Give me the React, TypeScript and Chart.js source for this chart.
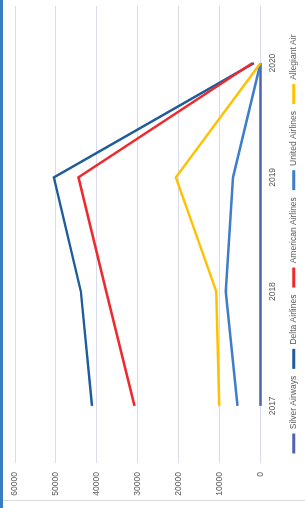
import React, { useEffect, useRef } from "react";
import { Chart, registerables } from "chart.js";

Chart.register(...registerables);

const years = ["2017", "2018", "2019", "2020"];
const seriesNames = ["Silver Airways", "Delta Airlines", "American Airlines", "United Airlines", "Allegiant Air"];
const silverAirways = [0, 0, 0, 0];
const deltaAirlines = [41200, 43900, 50500, 1600];
const americanAirlines = [30800, 37700, 44500, 2000];
const unitedAirlines = [5600, 8500, 6700, 0];
const allegiantAir = [10100, 10800, 20700, 0];
const valueTicks = [0, 10000, 20000, 30000, 40000, 50000, 60000];

const colors = ["#4E63AB", "#1F5C9C", "#EE2A2E", "#3D7DCA", "#FFC000"];

const legendShift = {
  id: "legendShift",
  afterLayout(chart: any) {
    if (chart.legend) {
      chart.legend.left += 13;
      chart.legend.right += 13;
    }
  },
};

export default function App() {
  const ref = useRef<HTMLCanvasElement | null>(null);

  useEffect(() => {
    if (!ref.current) return;
    const seriesData = [silverAirways, deltaAirlines, americanAirlines, unitedAirlines, allegiantAir];
    const textColor = "#595959";
    const font = { family: "'Liberation Sans', Arial, sans-serif", size: 8.5 };
    const chart = new Chart(ref.current, {
      type: "line",
      data: {
        labels: years,
        datasets: seriesNames.map((name, i) => ({
          label: name,
          data: seriesData[i],
          borderColor: colors[i],
          backgroundColor: colors[i],
          borderWidth: 2.5,
          pointRadius: 0,
          tension: 0,
          clip: false,
          order: seriesNames.length - i,
        })),
      },
      options: {
        animation: false,
        responsive: false,
        devicePixelRatio: 1,
        layout: { padding: { left: 0, right: 6, top: 15, bottom: -3 } },
        scales: {
          x: {
            type: "category",
            offset: true,
            grid: { display: false, drawTicks: false },
            border: { display: false },
            ticks: { color: textColor, font, padding: 7, maxRotation: 0, autoSkip: false },
            afterFit: (s: any) => {
              s.height = 22;
            },
          },
          y: {
            min: 0,
            max: 60000,
            afterBuildTicks: (s: any) => {
              s.ticks = valueTicks.map((v) => ({ value: v }));
            },
            grid: { color: "#D9DAEE", lineWidth: 1, drawTicks: false },
            border: { display: false },
            ticks: { color: textColor, font, padding: 9, callback: (v: any) => String(v) },
            afterFit: (s: any) => {
              s.width = 45;
            },
          },
        },
        plugins: {
          tooltip: { enabled: false },
          legend: {
            position: "bottom",
            labels: {
              color: textColor,
              font,
              boxWidth: 20,
              boxHeight: 3,
              padding: 7,
              sort: (a: any, b: any) => a.datasetIndex - b.datasetIndex,
              generateLabels: (c: any) =>
                Chart.defaults.plugins.legend.labels
                  .generateLabels(c)
                  .map((l: any) => ({ ...l, lineWidth: 0, fillStyle: l.strokeStyle })),
            },
          },
        },
      },
      plugins: [legendShift],
    });
    return () => chart.destroy();
  }, []);

  return (
    <div style={{ position: "fixed", left: 0, top: 0, width: 305, height: 508, overflow: "hidden", background: "#fff" }}>
      <div
        style={{
          position: "absolute",
          left: 0,
          top: 0,
          width: 508,
          height: 305,
          transformOrigin: "0 0",
          transform: "translateY(508px) rotate(-90deg)",
        }}
      >
        <canvas ref={ref} width={508} height={305} style={{ width: 508, height: 305, display: "block" }} />
      </div>
      <div style={{ position: "absolute", left: 0, top: 0, width: 3, height: 508, background: "#3A7EC0" }} />
      <div style={{ position: "absolute", left: 3, top: 500, width: 302, height: 1, background: "#D9D9D9" }} />
    </div>
  );
}
